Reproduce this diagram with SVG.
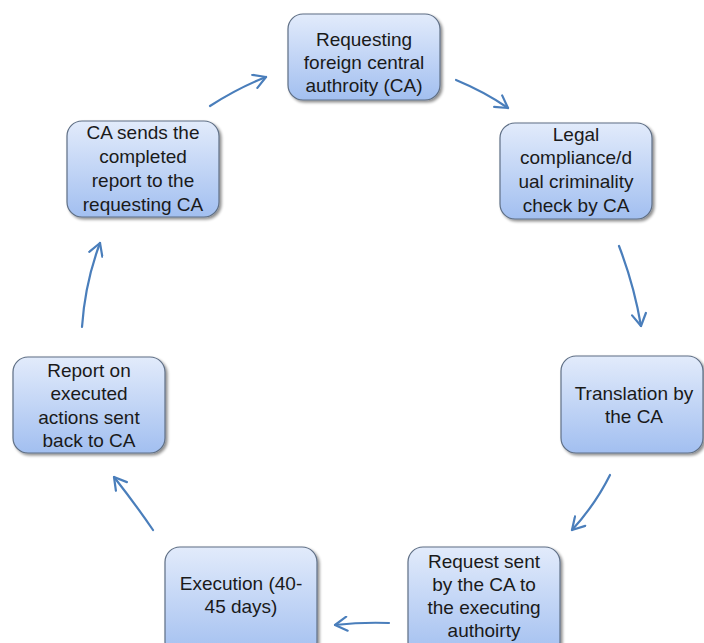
<svg xmlns="http://www.w3.org/2000/svg" width="704" height="643" viewBox="0 0 704 643">
<defs>
<linearGradient id="g" x1="0" y1="0" x2="0" y2="1">
<stop offset="0" stop-color="#e2ebfb"/>
<stop offset="1" stop-color="#a2bff0"/>
</linearGradient>
<filter id="sh" x="-10%" y="-10%" width="125%" height="130%">
<feGaussianBlur in="SourceAlpha" stdDeviation="1.5"/>
<feOffset dx="1.5" dy="2" result="b"/>
<feComponentTransfer><feFuncA type="linear" slope="0.45"/></feComponentTransfer>
<feMerge><feMergeNode/><feMergeNode in="SourceGraphic"/></feMerge>
</filter>
<marker id="ah" viewBox="0 0 16 16" refX="14" refY="8" markerWidth="16" markerHeight="16" markerUnits="userSpaceOnUse" orient="auto">
<path d="M2,1 L14,8 L2,15" fill="none" stroke="#4a7ebb" stroke-width="2.2" stroke-linecap="round" stroke-linejoin="round"/>
</marker>
</defs>
<style>
.box{fill:url(#g);stroke:#5f6f85;stroke-width:1.2;filter:url(#sh)}
.t{font-family:"Liberation Sans",Arial,sans-serif;font-size:19px;fill:#1a1a1a;text-anchor:middle}
.c{fill:none;stroke:#4a7ebb;stroke-width:2.2;stroke-linecap:round;marker-end:url(#ah)}
</style>
<rect width="704" height="643" fill="#fff"/>
<g id="connectors">
<path class="c" d="M210,106 Q238,88 266,77"/>
<path class="c" d="M456,80 Q485,92 508,108"/>
<path class="c" d="M619,246 Q634,285 641,326"/>
<path class="c" d="M610,475 Q595,505 572,530"/>
<path class="c" d="M389,623 Q362,622 335,625"/>
<path class="c" d="M153,530 Q136,505 114,477"/>
<path class="c" d="M82,327 Q85,283 100,243"/>
</g>
<g id="n1">
<rect class="box" x="288" y="14" width="152" height="86" rx="15"/>
<text class="t" x="364" y="46">Requesting</text>
<text class="t" x="364" y="69">foreign central</text>
<text class="t" x="364" y="92">authroity (CA)</text>
</g>
<g id="n2">
<rect class="box" x="500" y="123" width="152" height="96" rx="15"/>
<text class="t" x="576" y="141">Legal</text>
<text class="t" x="576" y="164">compliance/d</text>
<text class="t" x="576" y="188">ual criminality</text>
<text class="t" x="576" y="212">check by CA</text>
</g>
<g id="n3">
<rect class="box" x="561" y="356" width="142" height="97" rx="15"/>
<text class="t" x="634" y="400">Translation by</text>
<text class="t" x="634" y="423">the CA</text>
</g>
<g id="n4">
<rect class="box" x="408" y="547" width="152" height="110" rx="15"/>
<text class="t" x="484" y="568">Request sent</text>
<text class="t" x="484" y="591">by the CA to</text>
<text class="t" x="484" y="614">the executing</text>
<text class="t" x="484" y="637">authoirty</text>
</g>
<g id="n5">
<rect class="box" x="165" y="547" width="152" height="110" rx="15"/>
<text class="t" x="241" y="590">Execution (40-</text>
<text class="t" x="241" y="613">45 days)</text>
</g>
<g id="n6">
<rect class="box" x="13" y="357" width="152" height="96" rx="15"/>
<text class="t" x="89" y="377">Report on</text>
<text class="t" x="89" y="400">executed</text>
<text class="t" x="89" y="424">actions sent</text>
<text class="t" x="89" y="447">back to CA</text>
</g>
<g id="n7">
<rect class="box" x="67" y="121" width="152" height="96" rx="15"/>
<text class="t" x="143" y="139">CA sends the</text>
<text class="t" x="143" y="163">completed</text>
<text class="t" x="143" y="187">report to the</text>
<text class="t" x="143" y="211">requesting CA</text>
</g>
</svg>
